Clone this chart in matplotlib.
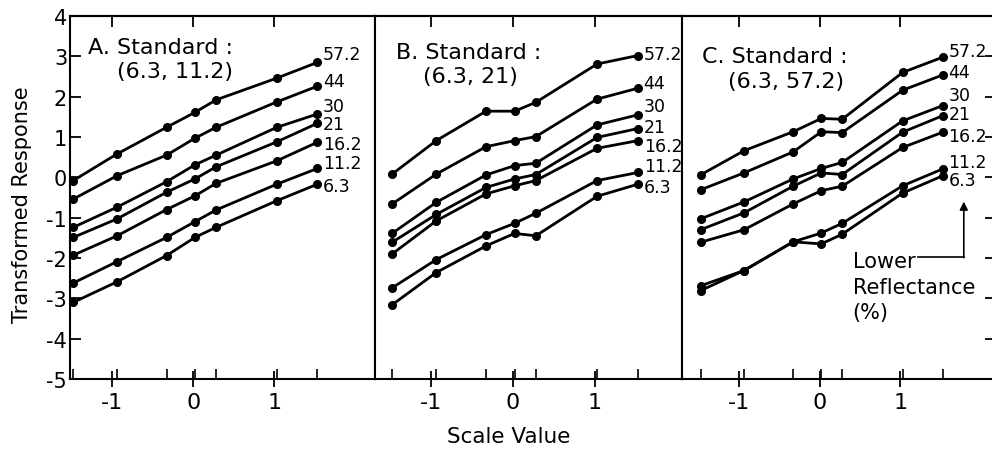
import matplotlib
matplotlib.use("Agg")
import matplotlib.pyplot as plt

plt.rcParams["font.family"] = ["DejaVu Sans"]
plt.rcParams["axes.unicode_minus"] = False

# scale values of the seven comparison stimuli
SCALE_X = [-1.48, -0.94, -0.33, 0.02, 0.28, 1.03, 1.53]
REFLECTANCE = ["57.2", "44", "30", "21", "16.2", "11.2", "6.3"]

# transformed responses, one row per lower reflectance (57.2 ... 6.3)
PANEL_A = [
    [-0.08, 0.58, 1.24, 1.61, 1.92, 2.46, 2.85],
    [-0.54, 0.04, 0.55, 0.97, 1.24, 1.87, 2.26],
    [-1.24, -0.74, -0.11, 0.31, 0.55, 1.24, 1.57],
    [-1.49, -1.03, -0.37, -0.04, 0.26, 0.88, 1.34],
    [-1.93, -1.45, -0.80, -0.46, -0.15, 0.41, 0.87],
    [-2.62, -2.09, -1.49, -1.10, -0.81, -0.17, 0.22],
    [-3.10, -2.59, -1.94, -1.49, -1.24, -0.58, -0.17],
]
PANEL_B = [
    [0.08, 0.91, 1.64, 1.64, 1.86, 2.81, 3.02],
    [-0.66, 0.08, 0.76, 0.91, 1.01, 1.94, 2.21],
    [-1.39, -0.62, 0.06, 0.29, 0.35, 1.30, 1.55],
    [-1.61, -0.92, -0.25, -0.04, 0.07, 0.99, 1.21],
    [-1.90, -1.08, -0.41, -0.21, -0.08, 0.72, 0.91],
    [-2.74, -2.04, -1.42, -1.14, -0.89, -0.08, 0.12],
    [-3.16, -2.36, -1.70, -1.39, -1.45, -0.47, -0.17],
]
PANEL_C = [
    [0.06, 0.66, 1.13, 1.46, 1.44, 2.60, 2.98],
    [-0.31, 0.11, 0.63, 1.13, 1.11, 2.16, 2.54],
    [-1.03, -0.61, -0.04, 0.22, 0.37, 1.40, 1.78],
    [-1.30, -0.88, -0.22, 0.11, 0.07, 1.12, 1.53],
    [-1.61, -1.30, -0.66, -0.33, -0.22, 0.74, 1.12],
    [-2.69, -2.31, -1.60, -1.38, -1.14, -0.21, 0.21],
    [-2.81, -2.31, -1.60, -1.65, -1.41, -0.39, 0.04],
]
TITLES = [("A. Standard :", "(6.3, 11.2)"),
          ("B. Standard :", "(6.3, 21)"),
          ("C. Standard :", "(6.3, 57.2)")]

# layout: where the curve labels sit (y, data units) in each panel
LABEL_Y = [
    [3.06, 2.39, 1.76, 1.33, 0.82, 0.35, -0.22],
    [3.06, 2.33, 1.76, 1.26, 0.78, 0.29, -0.25],
    [3.14, 2.60, 2.04, 1.57, 1.03, 0.39, -0.06],
]
AX_BOX = [(70, 305), (375, 307), (682, 314)]   # left, width in pixels
XLIMS = [(-1.52, 2.24), (-1.69, 2.07), (-1.71, 2.19)]
TITLE_POS = [((0.059, 0.915), (0.154, 0.848)),
             ((0.068, 0.900), (0.156, 0.835)),
             ((0.065, 0.890), (0.145, 0.820))]

W, H = 992, 452
fig = plt.figure(figsize=(W / 100, H / 100), dpi=100)
bottom, top = 380, 17

for i, data in enumerate([PANEL_A, PANEL_B, PANEL_C]):
    left, width = AX_BOX[i]
    ax = fig.add_axes([left / W, 1 - bottom / H, width / W, (bottom - top) / H])
    for row in data:
        ax.plot(SCALE_X, row, color="black", lw=2.0, marker="o", ms=5.5,
                solid_capstyle="round")
    for lab, ly in zip(REFLECTANCE, LABEL_Y[i]):
        ax.text(SCALE_X[-1] + 0.07, ly, lab, fontsize=12.5, ha="left", va="center")
    (t1x, t1y), (t2x, t2y) = TITLE_POS[i]
    ax.text(t1x, t1y, TITLES[i][0], transform=ax.transAxes, fontsize=16, va="center")
    ax.text(t2x, t2y, TITLES[i][1], transform=ax.transAxes, fontsize=16, va="center")

    ax.set_xlim(*XLIMS[i])
    ax.set_ylim(-5, 4)
    for s in ax.spines.values():
        s.set_linewidth(1.5)

    # integer scale values labelled and crossing the axis; stimuli ticked inward
    ax.set_xticks([-1, 0, 1], ["-1", "0", "1"])
    ax.set_xticks(SCALE_X, minor=True)
    ax.tick_params(axis="x", which="major", direction="inout", length=11, width=1.3,
                   labelsize=16, pad=4)
    ax.tick_params(axis="x", which="minor", direction="in", length=7, width=1.2)
    sec = ax.secondary_xaxis("top")
    sec.set_xticks([-1, 0, 1])
    sec.tick_params(direction="in", length=8, width=1.3, labeltop=False)
    sec.spines["top"].set_linewidth(1.5)

    ax.set_yticks(range(-5, 5))
    if i == 0:
        ax.tick_params(axis="y", direction="in", length=8, width=1.3,
                       labelsize=15, pad=2)
    elif i == 2:
        ax.tick_params(axis="y", left=False, labelleft=False, right=True,
                       direction="in", length=8, width=1.3)
    else:
        ax.tick_params(axis="y", left=False, labelleft=False)

    if i == 2:
        ax.text(0.41, -2.08, "Lower", fontsize=15, va="center")
        ax.text(0.41, -2.72, "Reflectance", fontsize=15, va="center")
        ax.text(0.41, -3.33, "(%)", fontsize=15, va="center")
        ax.plot([1.22, 1.79], [-1.98, -1.98], color="black", lw=1.2)
        ax.annotate("", xy=(1.79, -0.6), xytext=(1.79, -1.99),
                    arrowprops=dict(arrowstyle="-|>", color="black", lw=1.2,
                                    mutation_scale=12, shrinkA=0, shrinkB=0))

fig.text(22 / W, 1 - 205 / H, "Transformed Response", rotation=90,
         fontsize=15, ha="center", va="center")
fig.text(509 / W, 1 - 437 / H, "Scale Value", fontsize=15.5, ha="center", va="center")

fig.savefig("out.png", dpi=100, facecolor="white")
